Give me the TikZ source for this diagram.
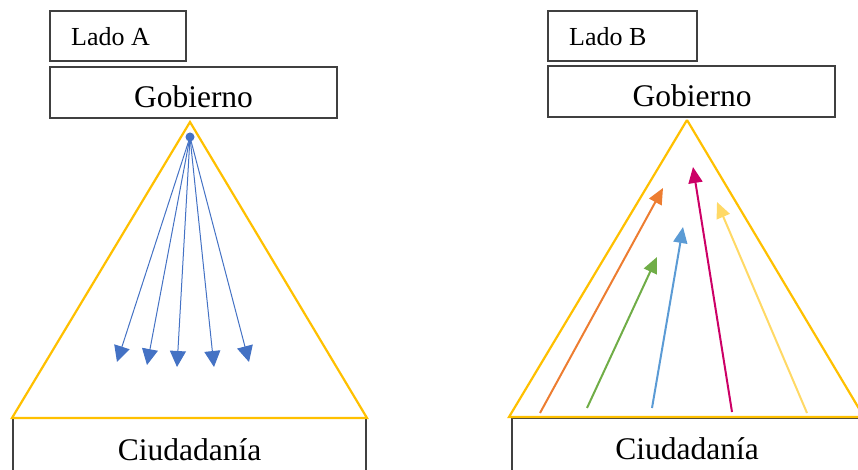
\documentclass[tikz,border=0pt]{standalone}
\usepackage{fontspec}
\setmainfont{Liberation Serif}
\usetikzlibrary{arrows.meta}
\definecolor{boxline}{HTML}{404040}
\definecolor{tri}{HTML}{FFC000}
\definecolor{bluea}{HTML}{4472C4}
\definecolor{orangeb}{HTML}{ED7D31}
\definecolor{greenb}{HTML}{70AD47}
\definecolor{blueb}{HTML}{5B9BD5}
\definecolor{magb}{HTML}{CC0066}
\definecolor{yelb}{HTML}{FFD966}
\tikzset{
  frame/.style={draw=boxline, line width=1.2pt},
  bigtxt/.style={inner sep=0pt, anchor=base, font=\fontsize{31.5}{36}\selectfont},
  smalltxt/.style={inner sep=0pt, anchor=base west, font=\fontsize{26}{30}\selectfont},
  pyramid/.style={draw=tri, line width=2.2pt, line join=miter},
  down/.style={draw=bluea, line width=1pt, -{Triangle[length=16pt,width=16pt]}},
  up/.style={line width=2pt, -{Triangle[length=16pt,width=14pt]}}
}
\begin{document}
\begin{tikzpicture}[x=1pt,y=-1pt]
\useasboundingbox (0,0) rectangle (858,470);
\clip (0,0) rectangle (858,470);
% Left side
\draw[frame] (50,11) rectangle (186,61);
\node[smalltxt] (ladoA) at (71,46) {Lado A};
\draw[frame] (50,67) rectangle (337,118);
\node[bigtxt] (gobA) at (193.5,108) {Gobierno};
\draw[frame] (13,418) rectangle (366,480);
\node[bigtxt] (ciuA) at (189.5,460) {Ciudadanía};
\draw[pyramid] (190,122) -- (12,418) -- (367,418) -- cycle;
\fill[bluea] (190,137) circle (4.5);
\coordinate (srcA) at (190,137);
\coordinate (a1) at (117,362);
\coordinate (a2) at (147,365);
\coordinate (a3) at (177,367);
\coordinate (a4) at (214,367);
\coordinate (a5) at (249,362);
\foreach \t in {a1,a2,a3,a4,a5} \draw[down] (srcA) -- (\t);
% Right side
\draw[frame] (548,11) rectangle (697,61);
\node[smalltxt] (ladoB) at (569,46) {Lado B};
\draw[frame] (548,66) rectangle (835,117);
\node[bigtxt] (gobB) at (692,107) {Gobierno};
\draw[frame] (512,418) rectangle (880,480);
\node[bigtxt] (ciuB) at (687,459) {Ciudadanía};
\draw[pyramid] (687,120) -- (509,417) -- (870,417);
\draw[pyramid] (687,120) -- (864,417);
\coordinate (s1) at (540,413); \coordinate (e1) at (663,188);
\coordinate (s2) at (587,408); \coordinate (e2) at (657,257);
\coordinate (s3) at (652,408); \coordinate (e3) at (683,227);
\coordinate (s4) at (732,412); \coordinate (e4) at (693,167);
\coordinate (s5) at (807,413); \coordinate (e5) at (717,202);
\draw[up, draw=orangeb, fill=orangeb] (s1) -- (e1);
\draw[up, draw=greenb, fill=greenb] (s2) -- (e2);
\draw[up, draw=blueb, fill=blueb] (s3) -- (e3);
\draw[up, draw=magb, fill=magb] (s4) -- (e4);
\draw[up, draw=yelb, fill=yelb] (s5) -- (e5);
\end{tikzpicture}
\end{document}
